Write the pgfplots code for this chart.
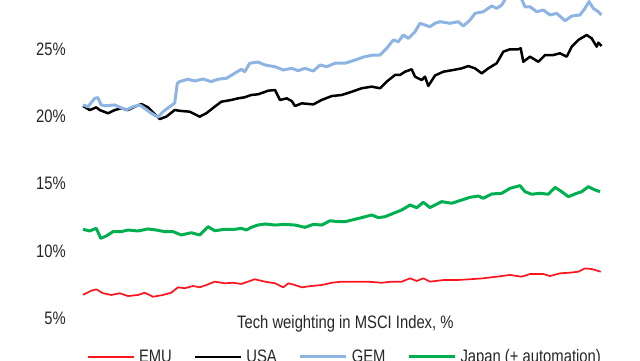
\documentclass[border=0pt]{standalone}
\usepackage{graphicx}
\usepackage{fontspec}
\setmainfont{Liberation Sans}
\usepackage{pgfplots}
\pgfplotsset{compat=1.18}
\definecolor{txt}{RGB}{38,38,38}
\definecolor{emu}{RGB}{255,20,30}
\definecolor{gem}{RGB}{141,180,226}
\definecolor{jap}{RGB}{0,176,80}
\newcommand\st[1]{\scalebox{1}[1.22]{#1}}
\begin{document}
\begin{tikzpicture}[x=1pt,y=1pt]
\begin{axis}[
  at={(82pt,28.3pt)}, anchor=south west,
  scale only axis, width=521pt, height=349.7pt,
  xmin=82, xmax=603, ymin=4, ymax=30,
  axis line style={draw=none}, tick style={draw=none},
  xtick=\empty,
  ytick={5,10,15,20,25},
  yticklabels={\st{5\%},\st{10\%},\st{15\%},\st{20\%},\st{25\%}},
  yticklabel style={anchor=east, inner sep=0pt, xshift=-16pt, font=\fontsize{14.8}{17}\selectfont, text=txt},
  legend columns=4,
  legend image code/.code={\draw[#1] (0pt,0pt) -- (46pt,0pt);},
  legend style={at={(0.0102,-0.072)}, anchor=west, draw=none, fill=none, inner sep=0pt, outer sep=0pt,
    /tikz/every odd column/.append style={column sep=4pt},
    /tikz/every even column/.append style={column sep=22pt},
    nodes={inner sep=0pt, font=\fontsize{14.8}{17}\selectfont, text=txt}},
  line join=round,
]
\addplot[emu, line width=1.7pt] coordinates {
(83,6.75) (84.7,6.80) (91.3,7.05) (96.3,7.15) (103,6.86) (111.3,6.73) (119.7,6.86) (128,6.65) (138,6.73)
(144.7,6.90) (153,6.60) (163,6.73) (171.3,6.90) (178,7.30) (184.7,7.23) (193,7.40) (199.7,7.30)
(206.3,7.47) (214.7,7.72) (224.7,7.60) (233,7.64) (241.3,7.55) (248,7.72) (254.7,7.90) (265,7.72)
(275,7.60) (283.3,7.30) (288.3,7.60) (295,7.47) (301.7,7.30) (311.7,7.40) (321.7,7.47) (331.7,7.64)
(341.7,7.72) (355,7.72) (368.3,7.72) (381.7,7.64) (391.7,7.72) (401.7,7.72) (410,7.97) (416.7,7.77)
(423.3,7.97) (430,7.72) (443.3,7.84) (456.7,7.84) (470,7.90) (483.3,7.97) (496.7,8.09) (510,8.22)
(521.7,8.09) (530,8.29) (543.3,8.29) (550,8.14) (560,8.34) (570,8.39) (578.3,8.46) (585,8.71)
(591.7,8.66) (595,8.59) (600.7,8.46)
};
\addlegendentry{\st{EMU}}
\addplot[black, line width=2.5pt] coordinates {
(83,20.78) (89.7,20.48) (96.3,20.68) (99.7,20.48) (108,20.24) (114.7,20.48) (121.3,20.61) (128,20.48)
(134.7,20.73) (141.3,20.93) (148,20.68) (154,20.24) (159.7,19.81) (166.3,19.99) (174.7,20.48)
(181.3,20.41) (189.7,20.36) (199.7,19.99) (206.3,20.24) (214.7,20.73) (221.3,21.10) (231.3,21.23)
(238,21.35) (244.7,21.43) (251.3,21.60) (258,21.65) (268.3,21.92) (275,21.97) (280,21.23)
(286.7,21.35) (291.7,21.15) (295,20.78) (301.7,20.98) (313.3,20.90) (321.7,21.23) (331.7,21.52)
(341.7,21.60) (351.7,21.84) (361.7,22.10) (371.7,22.22) (380,22.10) (386.7,22.59) (395,23.09)
(400,23.09) (405,23.33) (411.7,23.51) (415,22.96) (421.7,22.71) (425,22.96) (428.3,22.27)
(435,23.05) (443.3,23.33) (453.3,23.46) (461.7,23.58) (468.3,23.75) (475,23.58) (481.7,23.21)
(488.3,23.58) (496.7,23.96) (503.3,24.82) (510,25.00) (518.3,25.00) (520.7,25.07) (523.3,24.07)
(530,24.45) (538.3,24.07) (545,24.57) (553.3,24.57) (560,24.70) (566.7,24.45) (571.7,25.19)
(578.3,25.69) (586.7,26.06) (591.7,25.81) (596.7,25.19) (598.3,25.49) (601.7,25.24)
};
\addlegendentry{\st{USA}}
\addplot[gem, line width=3pt] coordinates {
(83,20.86) (88,20.73) (94.7,21.35) (98,21.40) (101,20.86) (106,20.80) (114.7,20.86) (119.7,20.70)
(126,20.48) (133,20.73) (139.7,20.86) (144.7,20.60) (151,20.26) (158,19.94) (163,20.36)
(169.7,20.73) (174.7,21.00) (177.3,22.47) (179.7,22.60) (188,22.77) (194.7,22.64) (203,22.79)
(211,22.59) (218,22.77) (226.3,22.84) (234.7,23.21) (241.3,23.51) (244.7,23.33) (249.7,23.96)
(258,24.05) (265,23.83) (275,23.70) (283.3,23.46) (291.7,23.58) (298.3,23.41) (305,23.58)
(313.3,23.38) (320,23.83) (326.7,23.70) (335,23.96) (345,23.96) (355,24.20) (365,24.45)
(373.3,24.57) (380,24.57) (386.7,25.07) (393.3,25.69) (398.3,25.56) (403.3,26.06) (408.3,25.81)
(415,26.30) (420,26.93) (425,26.80) (430,26.68) (435,26.93) (440,27.05) (450,26.93) (458.3,27.05)
(463.3,26.73) (470,27.17) (475,27.67) (483.3,27.79) (491.7,28.22) (496.7,28.04) (501.7,28.29)
(505,28.70) (510,29.10) (516,29.20) (521.7,28.70) (525,28.16) (530,28.16) (536.7,27.79)
(543.3,27.92) (550,27.55) (556.7,27.67) (565,27.12) (571.7,27.47) (580,27.55) (585,28.04)
(589,28.55) (593.3,28.04) (598.3,27.79) (601.5,27.55)
};
\addlegendentry{\st{GEM}}
\addplot[jap, line width=3pt] coordinates {
(83,11.61) (89.7,11.49) (96.3,11.69) (100.7,10.94) (106.3,11.12) (113,11.44) (121.3,11.44)
(128,11.56) (138,11.49) (148,11.64) (156.3,11.56) (164.7,11.44) (173,11.44) (181.3,11.19)
(191.3,11.36) (199.7,11.19) (208,11.81) (214.7,11.51) (224.7,11.61) (234.7,11.61) (241.3,11.69)
(246.3,11.56) (251.3,11.76) (258,11.93) (265,12.01) (275,11.93) (285,11.98) (295,11.93)
(305,11.76) (313.3,11.98) (321.7,11.93) (330,12.25) (338.3,12.18) (345,12.18) (351.7,12.30)
(361.7,12.48) (371.7,12.68) (378.3,12.48) (385,12.55) (395,12.85) (401.7,13.05) (410,13.42)
(416.7,13.22) (423.3,13.62) (430,13.23) (441.7,13.67) (451.7,13.55) (461.7,13.79) (470,13.99)
(478.3,14.09) (483.3,13.92) (491.7,14.24) (501.7,14.29) (510,14.66) (520,14.86) (525,14.41)
(531.7,14.22) (540,14.29) (548.3,14.22) (555,14.73) (561.7,14.41) (568.3,14.04) (576.7,14.29)
(581.7,14.41) (588.3,14.78) (595,14.54) (600,14.41)
};
\addlegendentry{\st{Japan (+ automation)}}
\end{axis}
\node[anchor=base west, inner sep=0pt, font=\fontsize{14.8}{17}\selectfont, text=txt] at (237pt,31.7pt) {\st{Tech weighting in MSCI Index, \%}};
\pgfresetboundingbox
\path[use as bounding box] (0,0) rectangle (640pt,360pt);
\end{tikzpicture}
\end{document}
